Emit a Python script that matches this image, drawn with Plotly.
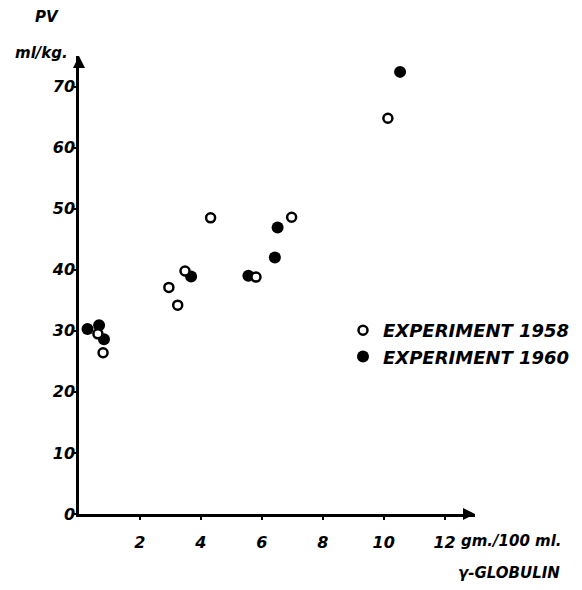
import plotly.graph_objects as go

# Data
x_1958 = [0.62, 0.79, 2.95, 3.24, 3.48, 4.32, 5.81, 6.98, 10.14]
y_1958 = [29.5, 26.4, 37.1, 34.2, 39.8, 48.5, 38.8, 48.6, 64.8]

x_1960 = [0.28, 0.66, 0.82, 3.68, 5.56, 6.43, 6.52, 10.54]
y_1960 = [30.3, 30.9, 28.6, 38.9, 39.0, 42.0, 46.9, 72.4]

x_ticks = [2, 4, 6, 8, 10, 12]
y_ticks = [0, 10, 20, 30, 40, 50, 60, 70]

FONT = "DejaVu Sans"

fig = go.Figure()
fig.add_trace(go.Scatter(
    x=x_1960, y=y_1960, mode="markers", name="EXPERIMENT 1960",
    legendrank=2,
    marker=dict(symbol="circle", size=12, color="black", line=dict(width=0)),
    cliponaxis=False,
))
fig.add_trace(go.Scatter(
    x=x_1958, y=y_1958, mode="markers", name="EXPERIMENT 1958",
    legendrank=1,
    marker=dict(symbol="circle", size=9, color="white", line=dict(width=2.5, color="black")),
    cliponaxis=False,
))

tickfont = dict(family=FONT, size=16, color="black", weight="bold", style="italic")

fig.update_xaxes(
    range=[0, 13], showgrid=False, zeroline=False,
    showline=True, linecolor="black", linewidth=2.5,
    tickvals=x_ticks, ticktext=[str(v) for v in x_ticks],
    ticks="outside", ticklen=3, tickwidth=1.5, tickcolor="black",
    tickfont=tickfont, ticklabelstandoff=9,
)
fig.update_yaxes(
    range=[0, 75], showgrid=False, zeroline=False,
    showline=True, linecolor="black", linewidth=2.5,
    tickvals=y_ticks, ticktext=[str(v) for v in y_ticks],
    ticks="outside", ticklen=2, tickwidth=1.5, tickcolor="black",
    tickfont=tickfont, ticklabelstandoff=-4,
)

# page body has an 8px margin; figure is sized to fit the window
OFF = 8
W, H = 582 - OFF, 590 - OFF
L, T = 79 - OFF, 56 - OFF
pw, ph = 396, 458
R, B = W - L - pw, H - T - ph


def px(sx):
    return (sx - OFF - L) / pw


def py(sy):
    return 1 - (sy - OFF - T) / ph


txt = dict(family=FONT, color="black", weight="bold", style="italic")
annotations = [
    # axis arrowheads
    dict(x=13, y=0, ax=12.6, ay=0, xref="x", yref="y", axref="x", ayref="y",
         showarrow=True, arrowhead=2, arrowsize=1.2, arrowwidth=2, arrowcolor="black", text=""),
    dict(x=0, y=75, ax=0, ay=73.5, xref="x", yref="y", axref="x", ayref="y",
         showarrow=True, arrowhead=2, arrowsize=1.2, arrowwidth=2, arrowcolor="black", text=""),
    # labels
    dict(x=px(47), y=py(17), xref="paper", yref="paper", text="PV", showarrow=False,
         xanchor="center", yanchor="middle", font=dict(size=15, **txt)),
    dict(x=px(41), y=py(53), xref="paper", yref="paper", text="ml/kg.", showarrow=False,
         xanchor="center", yanchor="middle", font=dict(size=15, **txt)),
    dict(x=px(459), y=py(541), xref="paper", yref="paper", text="gm./100 ml.", showarrow=False,
         xanchor="left", yanchor="middle", font=dict(size=15, **txt)),
    dict(x=px(456), y=py(573), xref="paper", yref="paper", text="γ-GLOBULIN", showarrow=False,
         xanchor="left", yanchor="middle", font=dict(size=15, **txt)),
]

fig.update_layout(
    width=W, height=H,
    margin=dict(l=L, r=R, t=T, b=B, autoexpand=False),
    paper_bgcolor="white", plot_bgcolor="white",
    showlegend=True,
    legend=dict(
        x=px(343), y=py(312), xanchor="left", yanchor="top",
        traceorder="normal",
        font=dict(size=18, **txt), bgcolor="rgba(0,0,0,0)",
    ),
    annotations=annotations,
)

fig.write_html("out.html")
